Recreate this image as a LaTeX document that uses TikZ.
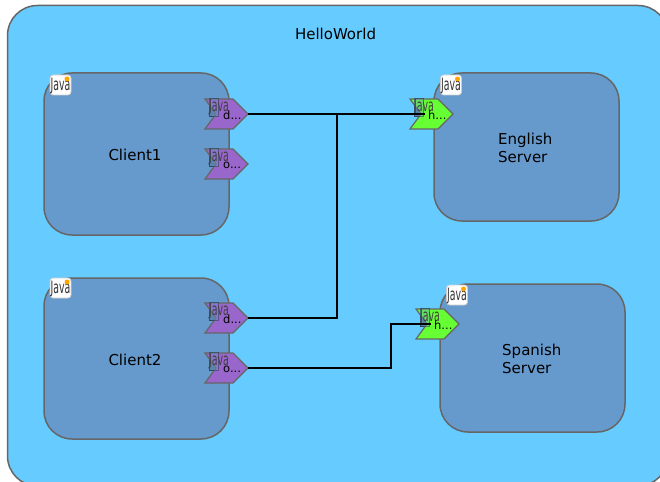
\documentclass[tikz,border=0pt]{standalone}
\usepackage{fontspec}
\setmainfont{DejaVu Sans}
\definecolor{outerblue}{HTML}{66CCFF}
\definecolor{blockblue}{HTML}{6699CC}
\definecolor{edge}{HTML}{666666}
\definecolor{portpurple}{HTML}{9966CC}
\definecolor{portgreen}{HTML}{66FF33}
\tikzset{
  x=1pt,y=-1pt,
  block/.style={draw=edge,line width=1.5pt,fill=blockblue,rounded corners=28pt,inner sep=0pt,outer sep=0pt,anchor=north west},
  lbl/.style={font=\fontsize{15}{18}\selectfont,text=black,inner sep=0pt,align=left},
  wire/.style={draw=black,line width=1.5pt},
  chev/.style={draw=edge,line width=1.2pt},
  jbox/.style={draw=black!20,fill=white,rounded corners=3pt,line width=.8pt},
  jtxt/.style={font=\fontsize{17}{17}\selectfont,text=black!80,inner sep=0pt,xscale=.55},
  ptxt/.style={font=\fontsize{17}{17}\selectfont,text=black!75,inner sep=0pt,xscale=.55},
  plbl/.style={font=\fontsize{11.5}{12}\selectfont,text=black,inner sep=0pt,anchor=west},
  tipc/.style={inner sep=0pt,minimum size=0pt,outer sep=0pt}
}
% #1 name, #2 x, #3 y of the tip, #4 colour, #5 label
\newcommand{\portshape}[5]{%
  \draw[fill=blockblue!80!black,line width=.9pt,draw=blockblue!45!black] (#2-39,#3-16) rectangle (#2-30,#3+2);
  \draw[chev,fill=#4] (#2-43,#3-15) -- (#2-15,#3-15) -- (#2,#3) -- (#2-15,#3+15) -- (#2-43,#3+15) -- (#2-32,#3) -- cycle;
  \draw[fill=blockblue,fill opacity=.35,line width=.9pt,draw=blockblue!45!black,draw opacity=.6] (#2-39,#3-16) rectangle (#2-30,#3+2);
  \node[ptxt] at (#2-29,#3-7) {Java};
  \node[plbl] at (#2-25,#3+1) {#5};
  \node[tipc] (#1tip) at (#2,#3) {};
  \node[tipc] (#1notch) at (#2-28,#3) {};
}
\newcommand{\javaicon}[3]{%
  \node[jbox,minimum width=21pt,minimum height=20pt,inner sep=0pt] (#1) at (#2,#3) {};
  \node[jtxt] at (#2,#3+1) {Java};
  \fill[orange!70!yellow] (#2+6.5,#3-6) circle (2.5pt);
}
\begin{document}
\begin{tikzpicture}
\useasboundingbox (0,0) rectangle (660,481);
\clip (0,0) rectangle (660,481);
\fill[white] (0,0) rectangle (660,481);
\draw[draw=edge,line width=1.5pt,fill=outerblue,rounded corners=30pt] (7.5,5.5) rectangle (668,486);
\node[lbl] (title) at (335.5,34) {HelloWorld};

\node[block,minimum width=185pt,minimum height=162pt] (client1) at (44,73) {};
\node[block,minimum width=185pt,minimum height=161pt] (client2) at (44,278) {};
\node[block,minimum width=185pt,minimum height=148pt] (english) at (434,73) {};
\node[block,minimum width=185pt,minimum height=148pt] (spanish) at (440,284) {};

\node[lbl] (c1l) at (135,155) {Client1};
\node[lbl] (c2l) at (135,360) {Client2};
\node[lbl,anchor=west] (enl) at (498,148) {English\\Server};
\node[lbl,anchor=west] (spl) at (502,359) {Spanish\\Server};

\javaicon{j1}{60.5}{85}
\javaicon{j2}{60.5}{288}
\javaicon{j3}{451}{85}
\javaicon{j4}{457}{295}

\portshape{a}{248}{114}{portpurple}{d...}
\portshape{b}{248}{164}{portpurple}{o...}
\portshape{c}{248}{318}{portpurple}{d...}
\portshape{d}{248}{368}{portpurple}{o...}
\portshape{e}{453}{114}{portgreen}{h...}
\portshape{f}{459}{324}{portgreen}{h...}

\coordinate (jn) at (337,114);
\coordinate (bend) at (391,368);
\draw[wire] (atip) -- (enotch);
\draw[wire] (ctip) -| (jn);
\draw[wire] (dtip) -- (bend) |- (fnotch);
\end{tikzpicture}
\end{document}
